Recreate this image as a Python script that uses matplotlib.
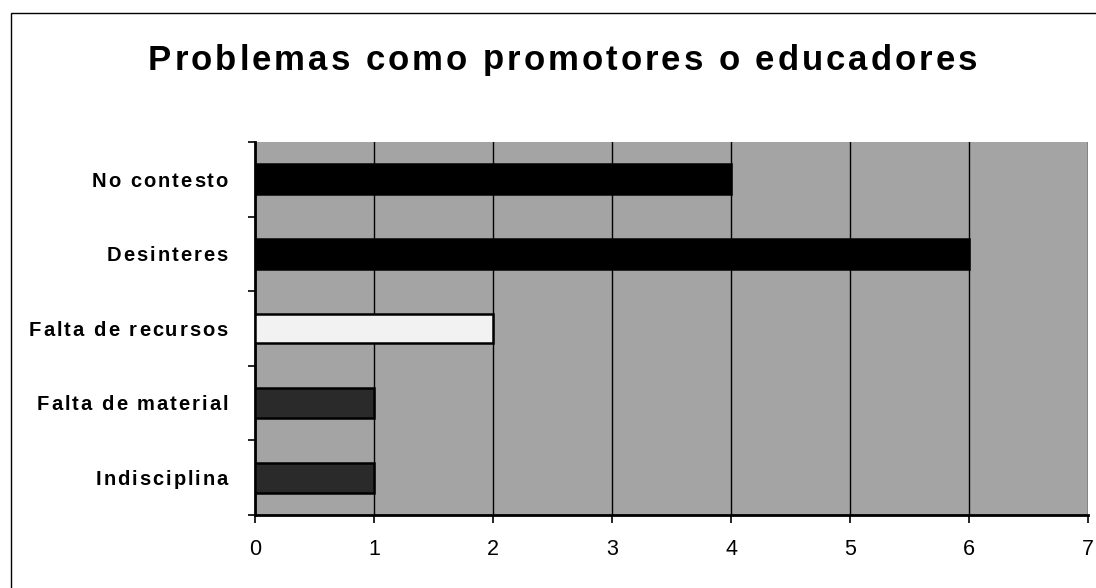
import matplotlib
matplotlib.use("Agg")
import matplotlib.pyplot as plt
from matplotlib.patches import Rectangle
from matplotlib.font_manager import FontProperties
import numpy as np

# ── data ────────────────────────────────────────────────────────────────────
CATEGORIES = ["No contesto", "Desinteres", "Falta de recursos",
              "Falta de material", "Indisciplina"]
VALUES = [4, 6, 2, 1, 1]
BAR_COLORS = ["#000000", "#000000", "#f2f2f2", "#2a2a2a", "#2a2a2a"]
XTICKS = [0, 1, 2, 3, 4, 5, 6, 7]
TITLE = "Problemas como promotores o educadores"

FONT = "Liberation Sans"
W_PX, H_PX = 1096, 588

fig = plt.figure(figsize=(W_PX / 100, H_PX / 100), dpi=100)
fig.patch.set_facecolor("white")
ax = fig.add_axes([255 / W_PX, 1 - 515 / H_PX, 833 / W_PX, 373 / H_PX])
ax.set_facecolor("#a4a4a4")

y = np.arange(len(CATEGORIES))
ax.barh(y, VALUES, height=0.4, color=BAR_COLORS, edgecolor="black",
        linewidth=1.8, zorder=3)

# axes
ax.set_xlim(0, 7)
ax.set_ylim(len(CATEGORIES) - 0.5, -0.5)
ax.set_xticks(XTICKS)
ax.set_xticklabels([str(t) for t in XTICKS], fontsize=15.5, fontfamily=FONT)
ax.tick_params(axis="x", length=6, width=1.2, pad=11, direction="out")

ax.set_yticks(y)
ax.set_yticklabels([])
ax.tick_params(axis="y", which="major", length=0)
ax.set_yticks(np.arange(len(CATEGORIES) + 1) - 0.5, minor=True)
ax.tick_params(axis="y", which="minor", length=5, width=1.2, direction="out")

ax.xaxis.grid(True, color="black", linewidth=1.0, zorder=1)
ax.set_axisbelow(True)
ax.spines[["top", "right"]].set_visible(False)
ax.spines[["left", "bottom"]].set_linewidth(2)
ax.spines[["left", "bottom"]].set_color("black")


# ── letter-spaced text (the original has wide tracking) ───────────────────
renderer = fig.canvas.get_renderer()


def text_width(s, prop):
    # measure with a trailing bar so trailing spaces keep their advance
    w1 = renderer.get_text_width_height_descent(s + "|", prop, ismath=False)[0]
    w0 = renderer.get_text_width_height_descent("|", prop, ismath=False)[0]
    return w1 - w0


def tracked_text(x_px, y_px, s, size, weight, track, ha="left"):
    """x_px, y_px in pixels from top-left; y_px is the vertical centre of caps."""
    prop = FontProperties(family=FONT, size=size, weight=weight)
    total = text_width(s, prop) + track * (len(s) - 1)
    if ha == "right":
        x0 = x_px - total
    elif ha == "center":
        x0 = x_px - total / 2
    else:
        x0 = x_px
    cap = 0.72 * size * 100 / 72
    base = y_px + cap / 2
    for i, ch in enumerate(s):
        if ch == " ":
            continue
        xi = x0 + text_width(s[:i], prop) + i * track
        fig.text(xi / W_PX, 1 - base / H_PX, ch, fontproperties=prop,
                 ha="left", va="baseline")


tracked_text(148, 57, TITLE, 25, "bold", 3.0, ha="left")

for yi, label in zip(y, CATEGORIES):
    _, ypx = ax.transData.transform((0, yi))
    tracked_text(228, H_PX - ypx, label, 14.5, "bold", 2.0, ha="right")

# outer frame of the chart object
fig.patches.append(Rectangle((11 / W_PX, -0.05), 1.1, 0.05 + 1 - 13 / H_PX,
                             transform=fig.transFigure, fill=False,
                             edgecolor="black", linewidth=1.0))

fig.savefig("out.png", dpi=100, facecolor="white")
